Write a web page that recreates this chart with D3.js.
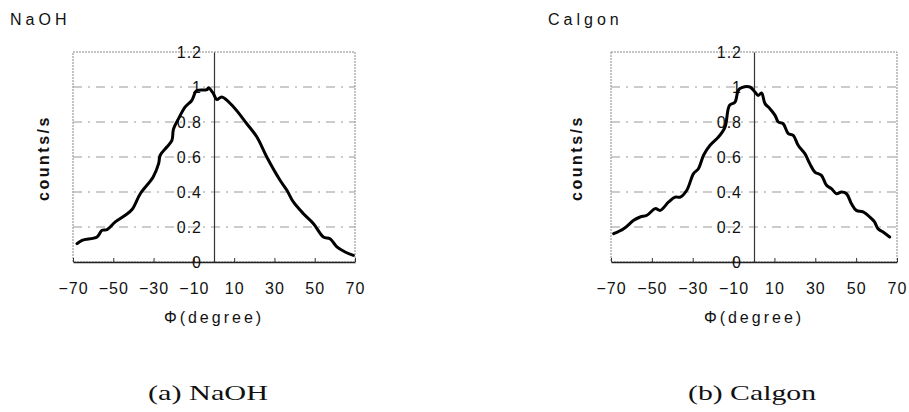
<!DOCTYPE html>
<html>
<head>
<meta charset="utf-8">
<script src="https://cdn.jsdelivr.net/npm/d3@7"></script>
<style>
  body { margin: 0; background: #fff; }
  .tick-label { font-family: "Liberation Sans", Arial, sans-serif; font-size: 16px; letter-spacing: 1px; fill: #111; }
  .axisTitle { font-family: "Liberation Sans", Arial, sans-serif; font-size: 15px; letter-spacing: 3px; fill: #111; }
  .caption { font-family: "Liberation Serif", "DejaVu Serif", serif; font-size: 22px; fill: #111; }
</style>
</head>
<body>
<div id="chart"></div>
<script>
// Data
var naohPhi = [-68, -65.5, -58.1, -55.6, -53.1, -49, -44.1, -40.7, -36.6, -30.2, -27.5, -26.7, -23.4, -20.9, -20.1, -17.6, -14.3, -11, -9.3, -8.5, -3.5, -2.7, -0.3, 1.4, 3.9, 9.7, 16.3, 21.3, 26.2, 32.8, 36.2, 39.4, 44.4, 49.4, 54.3, 57.6, 61, 65.1, 69.2];
var naohCounts = [0.105, 0.124, 0.143, 0.181, 0.185, 0.229, 0.267, 0.3, 0.39, 0.486, 0.562, 0.61, 0.657, 0.695, 0.76, 0.819, 0.886, 0.924, 0.97, 0.98, 0.985, 0.996, 0.962, 0.928, 0.943, 0.886, 0.79, 0.714, 0.6, 0.467, 0.41, 0.343, 0.276, 0.219, 0.143, 0.133, 0.086, 0.057, 0.038];

var calgonPhi = [-68.7, -63.8, -58.9, -55.7, -52.4, -48.3, -45.9, -41.8, -38.6, -36.1, -32.9, -29.6, -27.2, -24.7, -21.5, -17.4, -14.2, -12, -9.3, -7.7, -6, -2, 0.5, 2.1, 3.7, 5.4, 7.8, 10.3, 11.9, 14.3, 16.8, 19.2, 21.6, 24.9, 27.3, 29.8, 33, 35.5, 37.9, 40.4, 42.8, 45.3, 47.7, 50.1, 53.4, 57.5, 59, 60.7, 63.2, 66.4];
var calgonCounts = [0.162, 0.19, 0.238, 0.257, 0.267, 0.305, 0.295, 0.343, 0.371, 0.371, 0.41, 0.505, 0.533, 0.61, 0.667, 0.714, 0.771, 0.895, 0.914, 0.981, 0.996, 1.0, 0.971, 0.952, 0.966, 0.905, 0.876, 0.838, 0.8, 0.79, 0.733, 0.724, 0.667, 0.619, 0.562, 0.514, 0.495, 0.438, 0.419, 0.39, 0.4, 0.39, 0.333, 0.295, 0.286, 0.248, 0.229, 0.19, 0.171, 0.143];

var xTicks = [-70, -50, -30, -10, 10, 30, 50, 70];
var yTicks = [0, 0.2, 0.4, 0.6, 0.8, 1, 1.2];
var gridTicks = [0.2, 0.4, 0.6, 0.8, 1];

var svgWidth = 909;
var svgHeight = 412;

var svg = d3.select("#chart")
  .append("svg")
  .attr("width", svgWidth)
  .attr("height", svgHeight);

svg.append("rect")
  .attr("width", svgWidth)
  .attr("height", svgHeight)
  .attr("fill", "#fff");

function drawPanel(opts) {
  var xScale = d3.scaleLinear().domain([-70, 70]).range([opts.left, opts.right]);
  var yScale = d3.scaleLinear().domain([0, 1.2]).range([262, 52]);
  var g = svg.append("g");

  // dotted frame
  g.append("rect")
    .attr("x", opts.left)
    .attr("y", yScale(1.2))
    .attr("width", opts.right - opts.left)
    .attr("height", yScale(0) - yScale(1.2))
    .attr("fill", "none")
    .attr("stroke", "#888")
    .attr("stroke-width", 1)
    .attr("stroke-dasharray", "2,1");

  // dash-dot gridlines
  g.selectAll(".grid")
    .data(gridTicks)
    .enter()
    .append("line")
    .attr("x1", opts.left)
    .attr("x2", opts.right)
    .attr("y1", d => yScale(d))
    .attr("y2", d => yScale(d))
    .attr("stroke", "#999")
    .attr("stroke-width", 1)
    .attr("stroke-dasharray", "9,6,2,6");

  // bottom axis with inward ticks
  var bottomAxis = d3.axisBottom(xScale)
    .tickValues(xTicks)
    .tickSizeInner(-4)
    .tickSizeOuter(0)
    .tickFormat(d => d < 0 ? "\u2212" + Math.abs(d) : d);

  var xAxisG = g.append("g")
    .attr("transform", `translate(0, ${yScale(0)})`)
    .call(bottomAxis);
  xAxisG.attr("font-size", null).attr("font-family", null);
  xAxisG.select(".domain").attr("stroke", "#222").attr("stroke-width", 1.5);
  xAxisG.selectAll(".tick line").attr("stroke", "#333");
  xAxisG.selectAll(".tick text")
    .attr("class", "tick-label")
    .attr("y", 21)
    .attr("dy", "0.71em");

  // vertical axis at 0
  var leftAxis = d3.axisLeft(yScale)
    .tickValues(yTicks)
    .tickSize(0)
    .tickPadding(12)
    .tickFormat(d3.format("~g"));

  var yAxisG = g.append("g")
    .attr("transform", `translate(${xScale(0)}, 0)`)
    .call(leftAxis);
  yAxisG.attr("font-size", null).attr("font-family", null);
  yAxisG.select(".domain").attr("stroke", "#333").attr("stroke-width", 1.2);
  yAxisG.selectAll(".tick text").attr("class", "tick-label");

  // curve
  var line = d3.line()
    .x(d => xScale(d[0]))
    .y(d => yScale(d[1]))
    .curve(d3.curveCatmullRom);

  g.append("path")
    .datum(opts.phi.map((p, i) => [p, opts.counts[i]]))
    .attr("d", line)
    .attr("fill", "none")
    .attr("stroke", "#000")
    .attr("stroke-width", 3)
    .attr("stroke-linejoin", "round")
    .attr("stroke-linecap", "round");

  // titles
  svg.append("text")
    .attr("class", "axisTitle")
    .attr("x", opts.titleX)
    .attr("y", 25)
    .style("font-size", "16px")
    .style("letter-spacing", "4px")
    .text(opts.title);

  svg.append("text")
    .attr("class", "axisTitle")
    .attr("transform", `translate(${opts.yLabelX}, 158) rotate(-90)`)
    .attr("text-anchor", "middle")
    .attr("dy", "0.35em")
    .style("font-weight", "bold")
    .style("font-size", "16px")
    .style("letter-spacing", "2.5px")
    .text("counts/s");

  svg.append("text")
    .attr("class", "axisTitle")
    .attr("x", (opts.left + opts.right) / 2)
    .attr("y", 323)
    .attr("text-anchor", "middle")
    .style("font-size", "16px")
    .text("\u03A6(degree)");

  svg.append("text")
    .attr("class", "caption")
    .attr("x", opts.captionX)
    .attr("y", 400)
    .attr("textLength", opts.captionW)
    .attr("lengthAdjust", "spacingAndGlyphs")
    .text(opts.caption);
}

drawPanel({ left: 73, right: 355, phi: naohPhi, counts: naohCounts, title: "NaOH", titleX: 10, yLabelX: 43, captionX: 148, captionW: 120, caption: "(a)  NaOH" });
drawPanel({ left: 611, right: 897, phi: calgonPhi, counts: calgonCounts, title: "Calgon", titleX: 548, yLabelX: 576, captionX: 688, captionW: 128, caption: "(b)  Calgon" });
</script>
</body>
</html>
